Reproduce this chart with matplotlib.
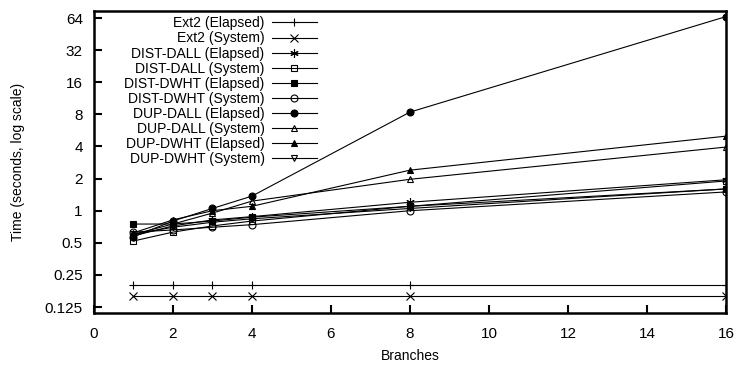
import numpy as np
import matplotlib
matplotlib.use("Agg")
import matplotlib.pyplot as plt

plt.rcParams['font.family'] = ['Liberation Sans', 'DejaVu Sans']

branches = [1, 2, 3, 4, 8, 16]

ext2_elapsed = [0.2, 0.2, 0.2, 0.2, 0.2, 0.2]
ext2_system = [0.158, 0.158, 0.158, 0.158, 0.158, 0.158]
dist_dall_elapsed = [0.58, 0.72, 0.82, 0.88, 1.2, 1.95]
dist_dall_system = [0.52, 0.63, 0.72, 0.8, 1.1, 1.9]
dist_dwht_elapsed = [0.75, 0.75, 0.8, 0.87, 1.1, 1.6]
dist_dwht_system = [0.63, 0.66, 0.7, 0.74, 1.0, 1.5]
dup_dall_elapsed = [0.57, 0.8, 1.05, 1.37, 8.4, 66]
dup_dall_system = [0.6, 0.75, 0.95, 1.23, 1.97, 3.95]
dup_dwht_elapsed = [0.62, 0.82, 1.0, 1.1, 2.4, 5.0]
dup_dwht_system = [0.6, 0.7, 0.78, 0.84, 1.05, 1.6]

series = [
    ("Ext2 (Elapsed)", ext2_elapsed, "+", "full"),
    ("Ext2 (System)", ext2_system, "x", "full"),
    ("DIST-DALL (Elapsed)", dist_dall_elapsed, (6, 2, 0), "full"),
    ("DIST-DALL (System)", dist_dall_system, "s", "none"),
    ("DIST-DWHT (Elapsed)", dist_dwht_elapsed, "s", "full"),
    ("DIST-DWHT (System)", dist_dwht_system, "o", "none"),
    ("DUP-DALL (Elapsed)", dup_dall_elapsed, "o", "full"),
    ("DUP-DALL (System)", dup_dall_system, "^", "none"),
    ("DUP-DWHT (Elapsed)", dup_dwht_elapsed, "^", "full"),
    ("DUP-DWHT (System)", dup_dwht_system, "v", "none"),
]

yticks = [0.125, 0.25, 0.5, 1, 2, 4, 8, 16, 32, 64]
yticklabels = ["0.125", "0.25", "0.5", "1", "2", "4", "8", "16", "32", "64"]
xticks = [0, 2, 4, 6, 8, 10, 12, 14, 16]

fig = plt.figure(figsize=(7.45, 3.68), dpi=100)
ax = fig.add_axes([0.126, 0.1495, 0.8485, 0.8205])

for label, vals, marker, fill in series:
    ms = 6 if marker in ("+", "x", (6, 2, 0)) else 5
    ax.plot(branches, vals, color="black", linewidth=0.8, marker=marker,
            markersize=ms, fillstyle=fill, markeredgewidth=0.8, label=label)

ax.set_yscale("log", base=2)
ax.set_ylim(0.11, 74.4)
ax.set_xlim(0, 16)
ax.set_yticks(yticks)
ax.set_yticklabels(yticklabels)
ax.minorticks_off()
ax.set_xticks(xticks)
ax.tick_params(direction="in", length=6, width=1.5, labelsize=11,
               top=False, right=False)
ax.tick_params(axis="y", pad=8)
ax.tick_params(axis="x", pad=10)
for sp in ax.spines.values():
    sp.set_linewidth(1.8)

ax.set_xlabel("Branches", fontsize=10, labelpad=6)
ax.set_ylabel("Time (seconds, log scale)", fontsize=10, labelpad=14)

ax.legend(loc="upper left", bbox_to_anchor=(0.035, 1.01), frameon=False,
          markerfirst=False, fontsize=10, handlelength=3.3,
          labelspacing=0.08, handletextpad=0.5, borderaxespad=0.2)
leg = ax.get_legend()
for t in leg.get_texts():
    t.set_ha("right")
leg._legend_box.align = "right"

fig.savefig("out.png", dpi=100)
